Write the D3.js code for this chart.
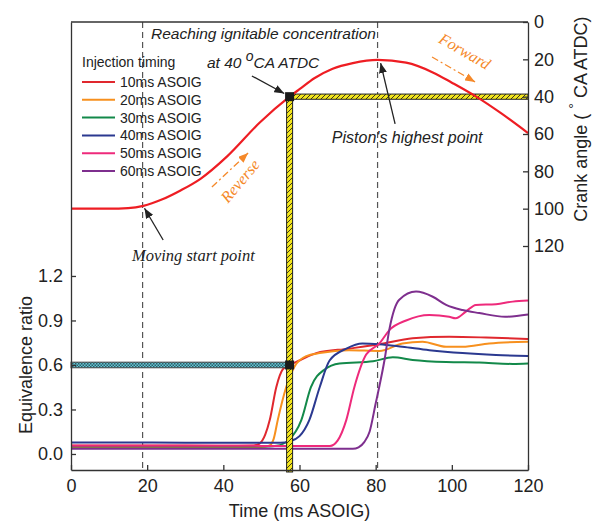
<!DOCTYPE html>
<html lang="en">
<head>
<meta charset="UTF-8">
<title>Equivalence ratio and crank angle</title>
<script src="https://d3js.org/d3.v7.min.js"></script>
<style>
  body { margin: 0; background: #fff; }
  svg { font-family: "Liberation Sans", Arial, sans-serif; }
  .axis path, .axis line { stroke: #333; stroke-width: 1.3; }
  .axis text { fill: #222; font-size: 18px; font-family: "Liberation Sans", Arial, sans-serif; }
  .note { font-style: italic; fill: #222; }
</style>
</head>
<body>
<div id="chart"></div>
<script>
// axis ticks
const timeTicks = [0, 20, 40, 60, 80, 100, 120];
const phiTicks = [0, 0.3, 0.6, 0.9, 1.2];
const angleTicks = [0, 20, 40, 60, 80, 100, 120];

// legend
const legendLabels = ["10ms ASOIG", "20ms ASOIG", "30ms ASOIG", "40ms ASOIG", "50ms ASOIG", "60ms ASOIG"];
const seriesColors = ["#e0282e", "#f7901e", "#13894a", "#2b3990", "#ee2a7b", "#7e2f8e"];

// crank angle (deg ATDC) vs time (ms)
const crankAngle = [[0, 100], [10, 100], [15, 99.7], [19, 98.5], [24, 95], [29, 90], [34, 84], [41, 72],
  [49.5, 54], [57.4, 40], [60, 36], [64, 30], [68.7, 25], [74, 22], [80.5, 20.3], [88, 21.8], [95, 27],
  [100, 32.5], [106.4, 40], [113, 49], [120, 59.5]];

// equivalence ratio vs time, one array per injection timing
const phi10ms = [[0, 0.058], [20, 0.058], [40, 0.055], [48, 0.058], [49.5, 0.07], [51, 0.13], [52.2, 0.23],
  [53.9, 0.45], [55.6, 0.57], [57.4, 0.6], [60, 0.63], [64.4, 0.68], [73, 0.71], [81, 0.74], [89.7, 0.78],
  [99.3, 0.79], [109, 0.785], [120, 0.775]];
const phi20ms = [[0, 0.047], [30, 0.047], [50, 0.047], [52, 0.055], [53.2, 0.1], [54.3, 0.23], [56.5, 0.45],
  [58.7, 0.59], [61.8, 0.66], [65.3, 0.68], [73, 0.7], [81, 0.695], [87, 0.745], [92.3, 0.757], [98.5, 0.723],
  [102.8, 0.723], [109.8, 0.745], [120, 0.757]];
const phi30ms = [[0, 0.05], [40, 0.05], [52, 0.05], [54, 0.055], [57, 0.09], [60.5, 0.23], [63, 0.45],
  [66.6, 0.57], [70.5, 0.61], [79.3, 0.625], [84.5, 0.652], [89.7, 0.634], [98.5, 0.62], [107.2, 0.616],
  [116, 0.607], [120, 0.61]];
const phi40ms = [[0, 0.078], [20, 0.078], [40, 0.075], [55, 0.075], [57.4, 0.085], [60, 0.12], [62.6, 0.23],
  [65.3, 0.45], [67.9, 0.63], [72.3, 0.71], [76.5, 0.745], [81, 0.74], [87, 0.723], [94.1, 0.7],
  [102.8, 0.68], [111.6, 0.667], [120, 0.66]];
const phi50ms = [[0, 0.056], [40, 0.056], [60, 0.053], [68, 0.054], [70, 0.09], [72.3, 0.23], [74.4, 0.45],
  [77.5, 0.67], [81, 0.745], [83.6, 0.835], [88, 0.9], [94.1, 0.937], [99.3, 0.925], [101, 0.915],
  [103.7, 0.96], [106.3, 1.005], [111.6, 1.01], [116, 1.027], [120, 1.034]];
const phi60ms = [[0, 0.035], [40, 0.035], [74, 0.035], [75.5, 0.045], [77, 0.08], [78.4, 0.15], [80, 0.34],
  [81, 0.46], [82.3, 0.63], [83.6, 0.84], [86.2, 1.04], [90.6, 1.095], [95, 1.06], [98.5, 1.005],
  [102.8, 0.97], [107.2, 0.95], [114, 0.925], [120, 0.94]];
const phiSeries = [phi10ms, phi20ms, phi30ms, phi40ms, phi50ms, phi60ms];

// markers
const ignitionTime = 57.4;
const ignitionAngle = 40;
const ignitionPhi = 0.6;
const startTime = 18.8;
const topTime = 80.5;

const width = 592, height = 522;
const plotLeft = 71, plotRight = 528, plotTop = 22, plotBottom = 470;

const svg = d3.select("#chart").append("svg")
  .attr("width", width)
  .attr("height", height);

const x = d3.scaleLinear().domain([0, 120]).range([plotLeft, plotRight]);
const yPhi = d3.scaleLinear().domain([-0.108, 2.912]).range([plotBottom, plotTop]);
const yCA = d3.scaleLinear().domain([0, 240]).range([plotTop, plotBottom]);

// patterns and arrow heads
const defs = svg.append("defs");
const yh = defs.append("pattern").attr("id", "yellowHatch")
  .attr("patternUnits", "userSpaceOnUse").attr("width", 5).attr("height", 5);
yh.append("rect").attr("width", 5).attr("height", 5).attr("fill", "#f3e51b");
yh.append("path").attr("d", "M0,5 L5,0 M-1,1 L1,-1 M4,6 L6,4")
  .attr("stroke", "#222").attr("stroke-width", 0.9);

const th = defs.append("pattern").attr("id", "tealHatch")
  .attr("patternUnits", "userSpaceOnUse").attr("width", 3).attr("height", 3);
th.append("rect").attr("width", 3).attr("height", 3).attr("fill", "#62c6d4");
th.append("rect").attr("width", 1.5).attr("height", 1.5).attr("fill", "#2f5d66");
th.append("rect").attr("x", 1.5).attr("y", 1.5).attr("width", 1.5).attr("height", 1.5).attr("fill", "#2f5d66");

function arrowHead(id, color) {
  defs.append("marker").attr("id", id)
    .attr("markerUnits", "userSpaceOnUse")
    .attr("markerWidth", 10).attr("markerHeight", 8)
    .attr("refX", 10).attr("refY", 4).attr("orient", "auto")
    .append("path").attr("d", "M0,0 L10,4 L0,8 z").attr("fill", color);
}
arrowHead("arrowBlack", "#222");
arrowHead("arrowOrange", "#f5892a");

// dashed guide lines
[startTime, topTime].forEach(t => {
  svg.append("line")
    .attr("x1", x(t)).attr("x2", x(t))
    .attr("y1", plotTop).attr("y2", plotBottom)
    .attr("stroke", "#555").attr("stroke-width", 1.2)
    .attr("stroke-dasharray", "6,4");
});

// equivalence ratio curves
const phiLine = d3.line()
  .x(d => x(d[0]))
  .y(d => yPhi(d[1]))
  .curve(d3.curveMonotoneX);

phiSeries.forEach((s, i) => {
  svg.append("path")
    .datum(s)
    .attr("d", phiLine)
    .attr("fill", "none")
    .attr("stroke", seriesColors[i])
    .attr("stroke-width", 2);
});

// hatched bars
svg.append("rect")
  .attr("x", x(0)).attr("y", yPhi(ignitionPhi) - 2.8)
  .attr("width", x(ignitionTime) - x(0)).attr("height", 5.6)
  .attr("fill", "url(#tealHatch)").attr("stroke", "#444").attr("stroke-width", 1);

svg.append("rect")
  .attr("x", x(ignitionTime) - 3).attr("y", yCA(ignitionAngle))
  .attr("width", 6).attr("height", plotBottom - yCA(ignitionAngle) + 2)
  .attr("fill", "url(#yellowHatch)").attr("stroke", "#222").attr("stroke-width", 1);

svg.append("rect")
  .attr("x", x(ignitionTime)).attr("y", yCA(ignitionAngle) - 2.6)
  .attr("width", x(120) - x(ignitionTime)).attr("height", 5.2)
  .attr("fill", "url(#yellowHatch)").attr("stroke", "#222").attr("stroke-width", 1);

// crank angle curve
const caLine = d3.line()
  .x(d => x(d[0]))
  .y(d => yCA(d[1]))
  .curve(d3.curveMonotoneX);

svg.append("path")
  .datum(crankAngle)
  .attr("d", caLine)
  .attr("fill", "none")
  .attr("stroke", "#ee1d23")
  .attr("stroke-width", 2.2);

// black squares at the ignition point
[yCA(ignitionAngle), yPhi(ignitionPhi)].forEach(yy => {
  svg.append("rect")
    .attr("x", x(ignitionTime) - 4.5).attr("y", yy - 4.5)
    .attr("width", 9).attr("height", 9)
    .attr("fill", "#1a1a1a");
});

// axes
svg.append("line")
  .attr("x1", plotLeft).attr("x2", plotRight).attr("y1", plotTop).attr("y2", plotTop)
  .attr("stroke", "#333").attr("stroke-width", 1.3);

svg.append("g").attr("class", "axis")
  .attr("transform", `translate(0,${plotBottom})`)
  .call(d3.axisBottom(x).tickValues(timeTicks).tickSizeInner(-5).tickSizeOuter(0).tickPadding(9));

svg.append("g").attr("class", "axis")
  .attr("transform", `translate(${plotLeft},0)`)
  .call(d3.axisLeft(yPhi).tickValues(phiTicks).tickFormat(d3.format(".1f"))
    .tickSizeInner(-5).tickSizeOuter(0).tickPadding(8));

svg.append("g").attr("class", "axis")
  .attr("transform", `translate(${plotRight},0)`)
  .call(d3.axisRight(yCA).tickValues(angleTicks).tickSizeInner(-5).tickSizeOuter(0).tickPadding(6));

// axis titles
svg.append("text")
  .attr("x", (plotLeft + plotRight) / 2).attr("y", 517)
  .attr("text-anchor", "middle")
  .attr("font-size", 18).attr("fill", "#222")
  .text("Time (ms ASOIG)");

svg.append("text")
  .attr("transform", `translate(32,${yPhi(0.6)}) rotate(-90)`)
  .attr("text-anchor", "middle")
  .attr("font-size", 18).attr("fill", "#222")
  .text("Equivalence ratio");

const caTitle = svg.append("text")
  .attr("transform", `translate(587,${yCA(52)}) rotate(-90)`)
  .attr("text-anchor", "middle")
  .attr("font-size", 18).attr("fill", "#222");
caTitle.append("tspan").text("Crank angle ( ");
caTitle.append("tspan").attr("dy", -8).attr("font-size", 14).text("°");
caTitle.append("tspan").attr("dy", 8).text(" CA ATDC)");

// legend
const legend = svg.append("g").attr("transform", "translate(82,67)");
legend.append("text").attr("font-size", 14).attr("fill", "#222").text("Injection timing");
legendLabels.forEach((label, i) => {
  const ly = 15 + i * 17.8;
  legend.append("line")
    .attr("x1", 0).attr("x2", 33).attr("y1", ly).attr("y2", ly)
    .attr("stroke", seriesColors[i]).attr("stroke-width", 2);
  legend.append("text")
    .attr("x", 38).attr("y", ly + 5)
    .attr("font-size", 14).attr("fill", "#222")
    .text(label);
});

// annotations
function arrow(t1, a1, t2, a2, color, marker, dash) {
  svg.append("line")
    .attr("x1", x(t1)).attr("y1", yCA(a1))
    .attr("x2", x(t2)).attr("y2", yCA(a2))
    .attr("stroke", color).attr("stroke-width", 1.3)
    .attr("stroke-dasharray", dash || null)
    .attr("marker-end", `url(#${marker})`);
}

svg.append("text").attr("class", "note")
  .attr("x", x(21)).attr("y", yCA(9.1))
  .attr("font-size", 15.5)
  .text("Reaching ignitable concentration");

const at40 = svg.append("text").attr("class", "note")
  .attr("x", x(35.7)).attr("y", yCA(24.6))
  .attr("font-size", 15.5);
at40.append("tspan").text("at 40 ");
at40.append("tspan").attr("dy", -7).attr("font-size", 14).text("o");
at40.append("tspan").attr("dy", 7).text("CA ATDC");
arrow(47.5, 28.9, 56, 38.3, "#222", "arrowBlack");

svg.append("text").attr("class", "note")
  .attr("x", x(68.5)).attr("y", yCA(64.8))
  .attr("font-size", 16)
  .text("Piston's highest point");
arrow(85.1, 54.6, 81.3, 22, "#222", "arrowBlack");

svg.append("text").attr("class", "note")
  .attr("x", x(16)).attr("y", yCA(128))
  .attr("font-family", "'Liberation Serif', 'Times New Roman', serif")
  .attr("font-size", 16.5)
  .text("Moving start point");
arrow(24.2, 116.8, 19.3, 99.8, "#222", "arrowBlack");

svg.append("text")
  .attr("transform", `translate(${x(102.7)},${yCA(18.2)}) rotate(30)`)
  .attr("text-anchor", "middle")
  .attr("font-family", "'Liberation Serif', 'Times New Roman', serif")
  .attr("font-style", "italic").attr("font-size", 16).attr("fill", "#f5892a")
  .text("Forward");
arrow(94.8, 18.75, 106.1, 32.1, "#f5892a", "arrowOrange", "7,3,2,3");

svg.append("text")
  .attr("transform", `translate(${x(45.5)},${yCA(87)}) rotate(-50)`)
  .attr("text-anchor", "middle")
  .attr("font-family", "'Liberation Serif', 'Times New Roman', serif")
  .attr("font-style", "italic").attr("font-size", 16).attr("fill", "#f5892a")
  .text("Reverse");
arrow(37, 88.4, 46.5, 70.2, "#f5892a", "arrowOrange", "7,3,2,3");
</script>
</body>
</html>
